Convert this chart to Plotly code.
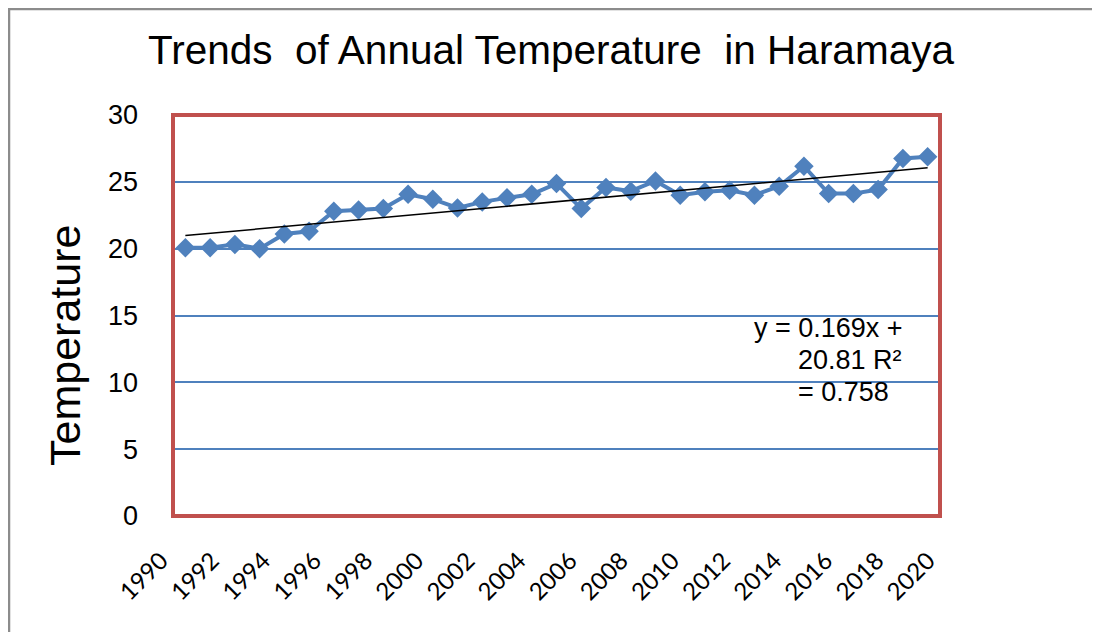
import plotly.graph_objects as go

# annual mean temperature, Haramaya
years = list(range(1990, 2021))
temperature = [20.07, 20.07, 20.32, 20.0, 21.1, 21.3, 22.8, 22.9, 23.0, 24.07,
               23.7, 23.05, 23.5, 23.8, 24.07, 24.87, 23.0, 24.58, 24.3, 25.07,
               24.0, 24.25, 24.37, 24.0, 24.67, 26.17, 24.12, 24.12, 24.42, 26.75,
               26.87]
x_labels = [str(y) for y in range(1990, 2021, 2)]
y_ticks = [0, 5, 10, 15, 20, 25, 30]

# linear trend as printed on the chart (x = 1..31)
slope, intercept = 0.169, 20.81
trend = [slope * (i + 1) + intercept for i in range(len(years))]

blue = "#4F81BD"
red = "#C0504D"

# the original spreads its 16 labels evenly across the whole category band
x0, x1 = years[0] - 0.5, years[-1] + 0.5
label_pos = [x0 + k * (x1 - x0) / (len(x_labels) - 1) for k in range(len(x_labels))]

fig = go.Figure()

fig.add_trace(go.Scatter(
    x=years, y=temperature, mode="lines+markers",
    line=dict(color=blue, width=4),
    marker=dict(symbol="diamond", size=15, color=blue),
    showlegend=False,
))

fig.add_trace(go.Scatter(
    x=[years[0], years[-1]], y=[trend[0], trend[-1]], mode="lines",
    line=dict(color="black", width=1.5),
    showlegend=False,
))

fig.update_layout(
    width=1100, height=632,
    margin=dict(l=165, r=168, t=107, b=124),
    paper_bgcolor="white", plot_bgcolor="white",
    title=dict(
        text="Trends\u00a0 of Annual Temperature\u00a0 in Haramaya",
        xref="paper", x=0.4928, xanchor="center", y=0.9335, yanchor="middle",
        font=dict(family="Liberation Sans, Arial", size=40.5, color="black"),
    ),
    font=dict(family="Liberation Sans, Arial", color="black"),
    xaxis=dict(
        range=[x0, x1], tickvals=label_pos, ticktext=x_labels, tickangle=-45,
        showgrid=False, zeroline=False, showline=False, automargin=False,
        ticklabelstandoff=25, ticklabelshift=-12,
        tickfont=dict(family="Lato", size=24, color="black"),
    ),
    yaxis=dict(
        range=[0, 30], tickvals=y_ticks, automargin=False,
        showgrid=True, gridcolor=blue, gridwidth=1.5, zeroline=False,
        showline=False, ticklabelstandoff=34,
        tickfont=dict(family="Liberation Sans, Arial", size=27, color="black"),
    ),
)

# y axis title, placed a little below the middle as in the original
fig.add_annotation(xref="paper", yref="paper", x=-0.1408, y=0.424, textangle=-90,
                   xanchor="center", yanchor="middle", text="Temperature", showarrow=False,
                   font=dict(family="Liberation Sans, Arial", size=43, color="black"))

# plot area frame (red) and outer chart frame (grey)
fig.add_shape(type="rect", xref="paper", yref="paper", x0=0, x1=1, y0=0, y1=1,
              line=dict(color=red, width=4), layer="above")
fig.add_shape(type="rect", xref="paper", yref="paper", x0=-0.2138, x1=1.5, y0=-0.5, y1=1.2643,
              line=dict(color="#8C8C8C", width=2.5))

eq_font = dict(family="Liberation Sans, Arial", size=27, color="black")
fig.add_annotation(xref="paper", yref="paper", x=0.755, y=0.468, xanchor="left", yanchor="middle",
                   text="y = 0.169x +", showarrow=False, font=eq_font)
fig.add_annotation(xref="paper", yref="paper", x=0.812, y=0.388, xanchor="left", yanchor="middle",
                   text="20.81 R²", showarrow=False, font=eq_font)
fig.add_annotation(xref="paper", yref="paper", x=0.812, y=0.308, xanchor="left", yanchor="middle",
                   text="= 0.758", showarrow=False, font=eq_font)

fig.write_html("out.html")
